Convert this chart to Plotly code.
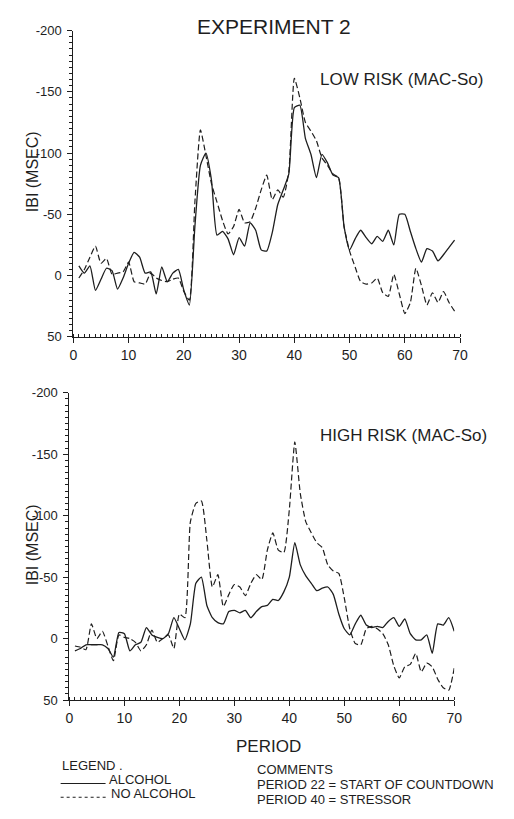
import plotly.graph_objects as go

# ---------------- data ----------------
periods_top = list(range(1, 70))
top_alcohol = [-8, -2, -8, 12, 3, -6, -4, 11, 2, -10,
               -19, -15, -2, -3, 15, -7, 5, -2, -5, 12,
               24, -40, -90, -100, -78, -33, -36, -30, -17, -31,
               -24, -43, -37, -21, -20, -35, -58, -70, -83, -137,
               -139, -112, -99, -80, -99, -92, -82, -80, -40, -21,
               -30, -37, -31, -26, -32, -28, -37, -25, -50, -50,
               -36, -22, -11, -22, -20, -12, -17, -23, -29]
top_no_alcohol = [2, -5, -15, -24, -10, -14, -1, -2, -3, -11,
                  5, 6, 7, -2, 2, 4, 5, 3, 2, 13,
                  20, -60, -119, -98, -75, -60, -45, -34, -40, -54,
                  -43, -44, -55, -70, -82, -62, -70, -64, -85, -161,
                  -145, -125, -118, -110, -96, -90, -83, -80, -40, -20,
                  -7, 5, 7, 6, 2, 14, 17, -1, 15, 31,
                  22, -6, 8, 24, 14, 22, 13, 22, 29]

periods_bottom = list(range(1, 71))
bottom_alcohol = [10, 8, 5, 5, 5, 5, 8, 15, -5, -4,
                  10, 5, 3, -9, -3, -1, 0, -4, -17, -8,
                  1, -12, -45, -50, -27, -17, -13, -12, -22, -23,
                  -21, -23, -17, -22, -26, -27, -32, -31, -38, -50,
                  -78, -60, -51, -45, -39, -41, -42, -36, -20, -8,
                  -3, -12, -19, -11, -9, -10, -9, -14, -17, -10,
                  -16, -4, 1, 1, -3, 12, -12, -11, -17, -6]
bottom_no_alcohol = [6, 7, 9, -12, 0, -6, 6, 18, -3, -1,
                     0, 3, 10, 5, -7, 3, 0, -3, 8, -20,
                     -17, -95, -110, -112, -80, -42, -52, -26, -36, -44,
                     -42, -35, -45, -52, -48, -72, -86, -72, -70, -105,
                     -160, -118, -95, -86, -78, -74, -60, -55, -53, -33,
                     -8, 4, 5, -8, -10, -8, -4, 5, 22, 32,
                     23, 21, 12, 27, 20, 23, 33, 40, 42, 24]

y_tickvals = [-200, -150, -100, -50, 0, 50]
y_ticktext = ["-200", "-150", "-100", "-50", "0", "50"]
x_tickvals = [0, 10, 20, 30, 40, 50, 60, 70]
x_ticktext = ["0", "10", "20", "30", "40", "50", "60", "70"]

# ---------------- figure ----------------
W, H = 514, 819
FONT = "Liberation Sans, Arial, sans-serif"
INK = "#1e1e1e"


def px(x):
    return x / W


def py(y):
    return 1 - y / H


fig = go.Figure()

solid = dict(color=INK, width=1.3, shape="spline", smoothing=0.5)
dashed = dict(color=INK, width=1.2, dash="6px,3px", shape="spline", smoothing=0.5)

fig.add_trace(go.Scatter(x=periods_top, y=top_alcohol, mode="lines", line=solid,
                         xaxis="x", yaxis="y", name="ALCOHOL"))
fig.add_trace(go.Scatter(x=periods_top, y=top_no_alcohol, mode="lines", line=dashed,
                         xaxis="x", yaxis="y", name="NO ALCOHOL"))
fig.add_trace(go.Scatter(x=periods_bottom, y=bottom_alcohol, mode="lines", line=solid,
                         xaxis="x2", yaxis="y2", name="ALCOHOL"))
fig.add_trace(go.Scatter(x=periods_bottom, y=bottom_no_alcohol, mode="lines", line=dashed,
                         xaxis="x2", yaxis="y2", name="NO ALCOHOL"))

xcommon = dict(range=[0, 70], tickvals=x_tickvals, ticktext=x_ticktext,
               showline=True, linecolor=INK, linewidth=1, ticks="outside", ticklen=5,
               tickcolor=INK, showgrid=False, zeroline=False,
               tickfont=dict(family=FONT, size=14, color=INK),
               minor=dict(dtick=1, ticks="inside", ticklen=3, tickcolor=INK, showgrid=False))
ycommon = dict(range=[50, -200], tickvals=y_tickvals, ticktext=y_ticktext,
               showline=True, linecolor=INK, linewidth=1, ticks="outside", ticklen=5,
               tickcolor=INK, showgrid=False, zeroline=False, ticklabelstandoff=3,
               tickfont=dict(family=FONT, size=13, color=INK),
               minor=dict(dtick=5, ticks="outside", ticklen=3, tickcolor=INK, showgrid=False))

fig.update_layout(
    width=W, height=H, margin=dict(l=0, r=0, t=0, b=0),
    paper_bgcolor="white", plot_bgcolor="white", showlegend=False,
    xaxis=dict(domain=[px(71), px(467)], anchor="y", **xcommon),
    yaxis=dict(domain=[py(336), py(24)], anchor="x", **ycommon),
    xaxis2=dict(domain=[px(67), px(461)], anchor="y2", **xcommon),
    yaxis2=dict(domain=[py(706), py(393)], anchor="x2", **ycommon),
)


def label(text, x, y, size, anchor="left", angle=0):
    fig.add_annotation(text=text, x=px(x), y=py(y), xref="paper", yref="paper",
                       xanchor=anchor, yanchor="middle", showarrow=False, textangle=angle,
                       font=dict(family=FONT, size=size, color=INK))


label("EXPERIMENT 2", 276, 20, 21, "center")
label("LOW RISK (MAC-So)", 321, 74, 17)
label("HIGH RISK (MAC-So)", 321, 437, 17)
label("IBI (MSEC)", 30, 168, 16, "center", -90)
label("IBI (MSEC)", 30, 548, 16, "center", -90)
label("PERIOD", 271, 753, 17, "center")
label("LEGEND .", 57, 773, 13)
label("ALCOHOL", 105, 787, 13)
label("NO ALCOHOL", 107, 801, 13)
label("COMMENTS", 257, 777, 13)
label("PERIOD 22 = START OF COUNTDOWN", 257, 792, 13)
label("PERIOD 40 = STRESSOR", 257, 807, 13)

fig.add_shape(type="line", xref="paper", yref="paper", x0=px(58), x1=px(104),
              y0=py(791), y1=py(791), line=dict(color=INK, width=1))
fig.add_shape(type="line", xref="paper", yref="paper", x0=px(58), x1=px(105),
              y0=py(805), y1=py(805), line=dict(color=INK, width=1, dash="dot"))

fig.write_html(
    "out.html",
    config={"displayModeBar": False},
    post_script="document.body.style.margin='0';document.body.style.overflow='hidden';",
)
